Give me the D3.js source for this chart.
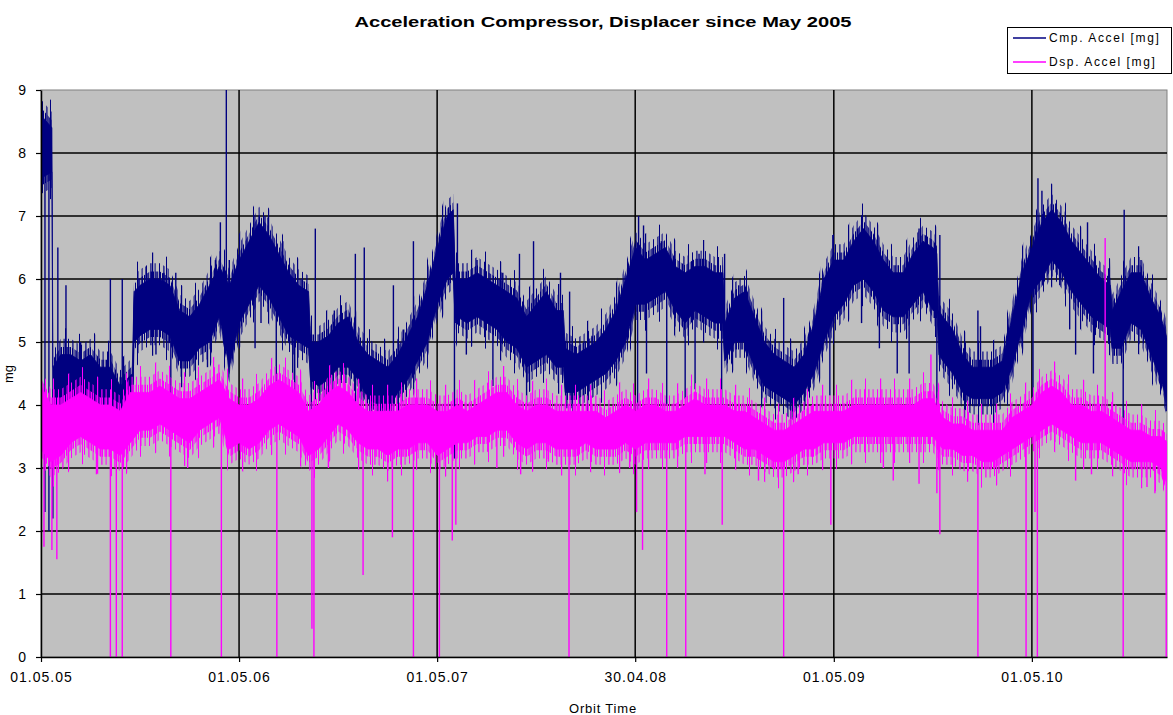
<!DOCTYPE html>
<html><head><meta charset="utf-8">
<script src="https://cdn.jsdelivr.net/npm/d3@7"></script>
<style>body{margin:0;background:#fff}svg{display:block}</style>
</head><body><svg id="c" width="1173" height="715"></svg>
<script>
// ---------- data ----------
const chartTitle = "Acceleration Compressor, Displacer since May 2005";
const xAxisTitle = "Orbit Time";
const yAxisTitle = "mg";
const seriesNames = ["Cmp. Accel [mg]", "Dsp. Accel [mg]"];
const seriesColors = ["#000080", "#ff00ff"];
const xTickLabels = ["01.05.05", "01.05.06", "01.05.07", "30.04.08", "01.05.09", "01.05.10"];
const xDomainLabels = ["01.05.05", "05.01.11"];
const yTickValues = [0, 1, 2, 3, 4, 5, 6, 7, 8, 9];

// dense band of each series: [years since 01.05.05, band low, band high]
const cmpBand = [[0,7.6,8.6],[0.055,7.7,8.4],[0.06,3.9,4.6],[0.1,4.0,4.8],[0.15,4.1,4.8],[0.2,4.0,4.7],[0.25,4.1,4.8],[0.3,3.9,4.6],[0.35,3.7,4.6],[0.4,3.5,4.3],[0.46,3.8,4.5],[0.47,5.0,5.8],[0.5,5.1,5.9],[0.55,5.2,6.0],[0.6,5.2,6.0],[0.65,5.1,5.9],[0.7,4.7,5.5],[0.75,4.7,5.4],[0.8,4.9,5.6],[0.85,5.0,5.9],[0.9,5.4,6.2],[0.95,4.6,5.9],[1.0,5.3,6.3],[1.05,5.6,6.6],[1.1,5.9,6.9],[1.15,5.7,6.7],[1.2,5.4,6.4],[1.25,5.1,6.1],[1.3,5.0,5.9],[1.35,4.9,5.8],[1.36,4.4,5.0],[1.4,4.3,5.0],[1.45,4.4,5.1],[1.5,4.6,5.3],[1.55,4.6,5.4],[1.6,4.4,5.0],[1.65,4.1,4.8],[1.7,4.0,4.7],[1.75,3.9,4.6],[1.8,4.2,4.8],[1.85,4.4,5.1],[1.9,4.7,5.4],[1.95,5.0,5.9],[2.0,5.6,6.5],[2.05,6.0,7.0],[2.08,6.1,7.1],[2.09,5.3,6.0],[2.1,5.4,6.0],[2.15,5.3,6.0],[2.2,5.4,6.1],[2.25,5.3,6.0],[2.3,5.2,5.9],[2.35,5.0,5.8],[2.4,4.9,5.7],[2.45,4.6,5.4],[2.5,4.7,5.6],[2.55,4.8,5.8],[2.6,4.6,5.5],[2.635,4.6,5.5],[2.645,4.2,4.9],[2.7,4.2,4.8],[2.75,4.3,4.9],[2.8,4.4,5.0],[2.85,4.5,5.2],[2.9,4.7,5.5],[2.95,5.0,6.0],[3.0,5.6,6.5],[3.05,5.6,6.3],[3.1,5.7,6.4],[3.15,5.8,6.5],[3.2,5.5,6.2],[3.25,5.3,6.1],[3.3,5.5,6.2],[3.35,5.4,6.2],[3.4,5.3,6.1],[3.44,5.3,6.1],[3.45,4.7,5.3],[3.5,5.0,5.7],[3.55,5.0,5.8],[3.6,4.6,5.4],[3.65,4.3,5.0],[3.7,4.2,4.8],[3.75,4.1,4.7],[3.8,4.0,4.6],[3.85,4.2,4.8],[3.9,4.5,5.3],[3.95,5.0,6.0],[4.0,5.4,6.3],[4.05,5.6,6.3],[4.1,5.9,6.6],[4.15,6.0,6.8],[4.2,5.8,6.6],[4.25,5.5,6.3],[4.3,5.4,6.1],[4.35,5.4,6.1],[4.4,5.6,6.4],[4.45,5.8,6.6],[4.5,5.5,6.5],[4.52,5.5,6.4],[4.53,4.8,5.5],[4.55,4.7,5.4],[4.6,4.5,5.2],[4.65,4.2,4.8],[4.7,4.1,4.6],[4.75,4.1,4.6],[4.8,4.1,4.6],[4.85,4.2,4.7],[4.9,4.6,5.4],[4.95,5.2,6.1],[5.0,5.8,6.5],[5.05,6.0,6.9],[5.1,6.3,7.1],[5.15,6.1,6.9],[5.2,5.8,6.6],[5.25,5.6,6.4],[5.3,5.4,6.2],[5.35,5.3,6.0],[5.395,5.2,5.9],[5.405,4.9,5.5],[5.45,4.9,5.8],[5.5,5.3,6.1],[5.55,5.2,6.1],[5.6,4.8,5.7],[5.65,4.4,5.4],[5.687,4.0,5.0]];

const dspBand = [[0,3.3,4.3],[0.05,3.1,4.0],[0.1,3.2,4.0],[0.15,3.4,4.1],[0.2,3.5,4.2],[0.25,3.4,4.1],[0.3,3.3,4.0],[0.35,3.3,4.0],[0.4,3.2,3.9],[0.45,3.4,4.2],[0.5,3.6,4.2],[0.55,3.6,4.2],[0.6,3.7,4.3],[0.65,3.6,4.2],[0.7,3.5,4.1],[0.75,3.4,4.1],[0.8,3.6,4.2],[0.85,3.7,4.3],[0.9,3.8,4.4],[0.95,3.3,4.1],[1.0,3.4,4.0],[1.05,3.3,4.0],[1.1,3.4,4.1],[1.15,3.6,4.3],[1.2,3.7,4.4],[1.25,3.6,4.3],[1.3,3.5,4.2],[1.35,3.2,3.9],[1.4,3.3,4.0],[1.45,3.5,4.2],[1.5,3.7,4.3],[1.55,3.6,4.2],[1.6,3.4,4.0],[1.65,3.3,3.9],[1.7,3.3,3.9],[1.75,3.2,3.9],[1.8,3.3,3.9],[1.85,3.3,4.0],[1.9,3.4,4.0],[1.95,3.4,4.0],[2.0,3.2,3.9],[2.05,3.3,3.9],[2.1,3.4,4.0],[2.15,3.4,3.9],[2.2,3.5,4.0],[2.25,3.5,4.1],[2.3,3.6,4.2],[2.35,3.6,4.2],[2.4,3.4,4.0],[2.45,3.3,3.9],[2.5,3.4,4.0],[2.55,3.4,4.0],[2.6,3.3,3.9],[2.65,3.3,3.9],[2.7,3.3,3.9],[2.75,3.4,3.9],[2.8,3.3,3.9],[2.85,3.3,3.8],[2.9,3.3,3.9],[2.95,3.4,4.0],[3.0,3.3,3.9],[3.05,3.4,4.0],[3.1,3.4,4.0],[3.15,3.4,3.9],[3.2,3.4,3.9],[3.25,3.5,4.0],[3.3,3.5,4.1],[3.35,3.5,4.0],[3.4,3.5,4.0],[3.45,3.5,4.0],[3.5,3.4,3.9],[3.55,3.3,3.9],[3.6,3.3,3.8],[3.65,3.2,3.7],[3.7,3.1,3.6],[3.75,3.1,3.6],[3.8,3.2,3.7],[3.85,3.3,3.8],[3.9,3.3,3.9],[3.95,3.4,3.9],[4.0,3.4,3.9],[4.05,3.4,3.9],[4.1,3.5,4.0],[4.15,3.5,4.0],[4.2,3.5,4.0],[4.25,3.5,4.0],[4.3,3.5,4.0],[4.35,3.5,4.0],[4.4,3.5,4.0],[4.45,3.5,4.1],[4.5,3.5,4.1],[4.55,3.3,3.8],[4.6,3.3,3.7],[4.65,3.2,3.7],[4.7,3.2,3.6],[4.75,3.1,3.6],[4.8,3.1,3.6],[4.85,3.2,3.6],[4.9,3.3,3.8],[4.95,3.4,3.9],[5.0,3.5,4.0],[5.05,3.6,4.2],[5.1,3.7,4.3],[5.15,3.6,4.2],[5.2,3.5,4.0],[5.25,3.4,4.0],[5.3,3.4,3.9],[5.35,3.4,3.9],[5.4,3.3,3.8],[5.45,3.2,3.7],[5.5,3.1,3.6],[5.55,3.1,3.6],[5.6,3.1,3.5],[5.65,3.0,3.5],[5.687,2.7,3.4]];

// isolated excursions: [years since 01.05.05, value reached]
const cmpSpikes = [[0.02,2.3],[0.04,2.0],[0.06,2.2],[0.085,6.5],[0.126,5.9],[0.15,3.8],[0.2,5.0],[0.35,6.0],[0.355,3.55],[0.39,3.5],[0.41,6.0],[0.53,6.2],[0.58,4.8],[0.62,6.1],[0.655,4.0],[0.68,6.1],[0.84,4.6],[0.88,6.3],[0.905,6.9],[0.935,9.0],[0.95,6.3],[1.08,4.9],[1.11,5.3],[1.13,7.0],[1.187,4.0],[1.22,6.6],[1.27,4.4],[1.28,4.2],[1.364,3.8],[1.384,6.8],[1.48,5.5],[1.586,6.4],[1.616,3.6],[1.631,6.5],[1.7,3.8],[1.778,5.9],[1.83,5.2],[1.879,6.6],[2.086,3.15],[2.101,7.2],[2.146,4.8],[2.2,6.3],[2.28,4.3],[2.33,6.1],[2.414,6.4],[2.45,4.0],[2.485,6.6],[2.621,6.1],[2.667,5.8],[2.78,5.1],[3.01,3.5],[3.015,7.0],[3.04,6.85],[3.055,4.5],[3.13,6.6],[3.157,4.0],[3.25,4.1],[3.3,4.25],[3.32,6.4],[3.434,3.9],[3.449,6.4],[3.52,5.9],[3.747,5.7],[3.98,4.15],[3.995,6.7],[4.12,6.8],[4.14,5.3],[4.23,4.9],[4.32,4.5],[4.38,4.5],[4.43,6.8],[4.52,3.6],[4.535,6.7],[4.727,5.5],[4.74,5.25],[5.005,4.0],[5.03,7.6],[5.05,7.4],[5.12,7.2],[5.14,5.9],[5.19,5.2],[5.22,4.8],[5.28,6.9],[5.31,4.5],[5.46,3.65],[5.465,7.1],[5.54,5.2],[5.55,6.3],[5.677,3.9]];

const dspSpikes = [[0.015,1.75],[0.055,1.7],[0.08,1.55],[0.28,2.9],[0.35,0],[0.38,0],[0.41,0],[0.655,0],[0.74,3.0],[0.91,0],[1.19,0],[1.367,0.45],[1.377,0],[1.45,3.0],[1.625,1.3],[1.773,1.9],[1.879,0],[2.01,0],[2.075,1.85],[2.093,2.1],[2.3,3.0],[2.42,2.9],[2.56,3.1],[2.664,0],[2.97,3.0],[3.005,2.3],[3.035,1.7],[3.157,0],[3.253,0],[3.35,2.9],[3.437,2.1],[3.62,2.8],[3.747,0],[3.82,2.9],[3.985,2.1],[4.25,3.0],[4.3,2.8],[4.43,2.75],[4.49,4.8],[4.52,2.6],[4.535,1.95],[4.727,0],[4.82,3.0],[4.97,0],[5.015,2.3],[5.027,0],[5.22,2.8],[5.3,2.9],[5.369,6.65],[5.46,0],[5.58,2.7],[5.62,2.6],[5.677,0]];

// ---------- drawing ----------
const plot = {left: 41, right: 1167, top: 90, bottom: 657};
const parseDate = d3.utcParse("%d.%m.%y");
const startDate = parseDate(xDomainLabels[0]);
const yearsToDate = t => new Date(startDate.getTime() + t * 365.25 * 864e5);

const x = d3.scaleUtc().domain(xDomainLabels.map(parseDate)).range([plot.left, plot.right]);
const y = d3.scaleLinear().domain([0, 9]).range([plot.bottom, plot.top]);

const svg = d3.select("#c");
const font = "'Liberation Sans', Arial, sans-serif";
const defs = svg.append("defs");

// vertical-stripe patterns giving the noisy fringe of the dense traces
const fringeStyles = [
  {pad: 0.12, w: 9, stripes: [[0, 1], [2.5, 1.2], [4.2, 1], [6.5, 1.5]]},
  {pad: 0.25, w: 13, stripes: [[1, 1], [5.3, 1.2], [9.6, 1]]},
  {pad: 0.42, w: 29, stripes: [[3, 1.2], [17, 1]]}
];
seriesColors.forEach((c, si) => {
  fringeStyles.forEach((f, fi) => {
    const p = defs.append("pattern").attr("id", `fr${si}_${fi}`)
      .attr("patternUnits", "userSpaceOnUse").attr("width", f.w).attr("height", 8)
      .attr("x", si * 3 + fi * 2);
    f.stripes.forEach(s => p.append("rect").attr("x", s[0]).attr("y", 0)
      .attr("width", s[1]).attr("height", 8).attr("fill", c));
  });
});

// plot background
svg.append("rect").attr("x", plot.left).attr("y", plot.top)
  .attr("width", plot.right - plot.left).attr("height", plot.bottom - plot.top)
  .attr("fill", "#c0c0c0").attr("stroke", "#808080").attr("stroke-width", 1);

// gridlines
const tickDates = xTickLabels.map(parseDate);
svg.append("g").selectAll("line").data(yTickValues.filter(v => v > 0 && v < 9)).join("line")
  .attr("x1", plot.left).attr("x2", plot.right)
  .attr("y1", d => y(d)).attr("y2", d => y(d))
  .attr("stroke", "#000").attr("stroke-width", 1.5);
svg.append("g").selectAll("line").data(tickDates.slice(1)).join("line")
  .attr("x1", d => x(d)).attr("x2", d => x(d))
  .attr("y1", plot.top).attr("y2", plot.bottom)
  .attr("stroke", "#000").attr("stroke-width", 1.5);

// series
defs.append("clipPath").attr("id", "pc").append("rect")
  .attr("x", plot.left).attr("y", plot.top)
  .attr("width", plot.right - plot.left).attr("height", plot.bottom - plot.top);
const seriesLayer = svg.append("g").attr("clip-path", "url(#pc)");

function drawSeries(band, spikes, color, si) {
  const g = seriesLayer.append("g");
  fringeStyles.slice().reverse().forEach((f, k) => {
    const fi = fringeStyles.length - 1 - k;
    const fringe = d3.area()
      .x(d => x(yearsToDate(d[0])))
      .y0(d => y(d[1] - f.pad)).y1(d => y(d[2] + f.pad));
    g.append("path").datum(band).attr("d", fringe).attr("fill", `url(#fr${si}_${fi})`);
  });
  const area = d3.area()
    .x(d => x(yearsToDate(d[0])))
    .y0(d => y(d[1])).y1(d => y(d[2]));
  g.append("path").datum(band).attr("d", area)
    .attr("fill", color).attr("stroke", color).attr("stroke-width", 0.8);
  const bis = d3.bisector(d => d[0]).left;
  const midAt = t => {
    const i = Math.max(1, Math.min(band.length - 1, bis(band, t)));
    const a = band[i - 1], b = band[i];
    const f = (t - a[0]) / (b[0] - a[0]);
    return ((a[1] + (b[1] - a[1]) * f) + (a[2] + (b[2] - a[2]) * f)) / 2;
  };
  g.selectAll("line").data(spikes).join("line")
    .attr("x1", d => x(yearsToDate(d[0]))).attr("x2", d => x(yearsToDate(d[0])))
    .attr("y1", d => y(midAt(d[0]))).attr("y2", d => y(d[1]))
    .attr("stroke", color).attr("stroke-width", 1.4);
}
drawSeries(cmpBand, cmpSpikes, seriesColors[0], 0);
drawSeries(dspBand, dspSpikes, seriesColors[1], 1);

// axes
const yAxis = d3.axisLeft(y).tickValues(yTickValues).tickSize(5).tickSizeOuter(0).tickPadding(10).tickFormat(d3.format("d"));
const gy = svg.append("g").attr("transform", `translate(${plot.left},0)`).call(yAxis);
const xAxis = d3.axisBottom(x).tickValues(tickDates).tickSize(5).tickSizeOuter(0).tickPadding(10)
  .tickFormat((d, i) => xTickLabels[i]);
const gx = svg.append("g").attr("transform", `translate(0,${plot.bottom})`).call(xAxis);
[gx, gy].forEach(g => {
  g.select(".domain").attr("stroke", "#000").attr("stroke-width", 1.5);
  g.selectAll(".tick line").attr("stroke", "#000").attr("stroke-width", 1.2);
  g.selectAll("text").attr("fill", "#000").style("font-family", font).style("font-size", "14px");
});
gx.selectAll("text").style("letter-spacing", "1px");

// titles
svg.append("text").attr("x", 603).attr("y", 27).attr("text-anchor", "middle")
  .attr("textLength", 497).attr("lengthAdjust", "spacingAndGlyphs")
  .style("font-family", "'Liberation Sans Narrow', 'Liberation Sans', Arial, sans-serif")
  .style("font-weight", "bold").style("font-size", "15px").text(chartTitle);
svg.append("text").attr("x", 603).attr("y", 713).attr("text-anchor", "middle")
  .style("font-family", font).style("font-size", "13px").style("letter-spacing", "0.8px").text(xAxisTitle);
svg.append("text").attr("transform", "translate(13,374) rotate(-90)").attr("text-anchor", "middle")
  .style("font-family", font).style("font-size", "13px").text(yAxisTitle);

// legend
const lg = svg.append("g");
lg.append("rect").attr("x", 1007.5).attr("y", 27.5).attr("width", 164).attr("height", 46)
  .attr("fill", "#fff").attr("stroke", "#000").attr("stroke-width", 1);
seriesNames.forEach((name, i) => {
  const yy = 38 + i * 24;
  lg.append("line").attr("x1", 1013).attr("x2", 1046).attr("y1", yy).attr("y2", yy)
    .attr("stroke", seriesColors[i]).attr("stroke-width", 1.5);
  lg.append("text").attr("x", 1049).attr("y", yy + 4)
    .style("font-family", font).style("font-size", "12px").style("letter-spacing", "1.6px").text(name);
});
</script></body></html>
